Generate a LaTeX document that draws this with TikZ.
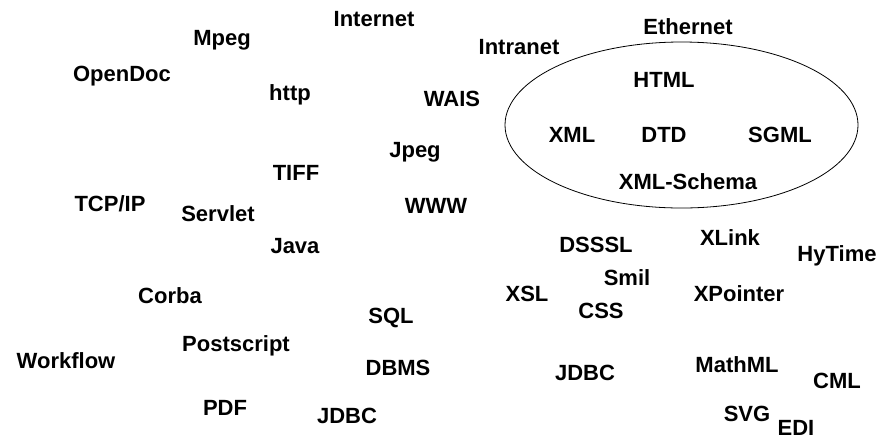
\documentclass[tikz,border=0pt]{standalone}
\usepackage{fontspec}
\setmainfont{Liberation Sans}
\usetikzlibrary{shapes.geometric}
\begin{document}
\begin{tikzpicture}[x=1pt,y=-1pt,
  term/.style={font=\fontsize{22}{24}\selectfont\bfseries, inner sep=0pt, text height=16pt, text depth=0pt, anchor=center},
  group/.style={draw, ellipse, line width=0.8pt, minimum width=353pt, minimum height=166pt, inner sep=0pt}]
\path[use as bounding box, fill=white] (0,0) rectangle (885,440);
\node[group] (grp) at (681.5,125) {};
% left / middle words
\node[term] (internet) at (374,18) {Internet};
\node[term] (mpeg) at (222,37) {Mpeg};
\node[term] (intranet) at (519,46) {Intranet};
\node[term] (opendoc) at (122,73) {OpenDoc};
\node[term] (http) at (290,92) {http};
\node[term] (wais) at (452,98) {WAIS};
\node[term] (jpeg) at (415,149) {Jpeg};
\node[term] (tiff) at (296,172) {TIFF};
\node[term] (tcpip) at (110,203) {TCP/IP};
\node[term] (servlet) at (218,213) {Servlet};
\node[term] (www) at (436,205) {WWW};
\node[term] (java) at (295,245) {Java};
\node[term] (corba) at (170,295) {Corba};
\node[term] (sql) at (391,315) {SQL};
\node[term] (postscript) at (236,343) {Postscript};
\node[term] (workflow) at (66,360) {Workflow};
\node[term] (dbms) at (398,367) {DBMS};
\node[term] (pdf) at (225,407) {PDF};
\node[term] (jdbcb) at (347,415) {JDBC};
% ellipse group
\node[term] (ethernet) at (688,26) {Ethernet};
\node[term] (html) at (664,79) {HTML};
\node[term] (xml) at (572,134) {XML};
\node[term] (dtd) at (664,134) {DTD};
\node[term] (sgml) at (780,134) {SGML};
\node[term] (schema) at (688,181) {XML-Schema};
% right words
\node[term] (dsssl) at (596,244) {DSSSL};
\node[term] (xlink) at (730,237) {XLink};
\node[term] (hytime) at (837,253) {HyTime};
\node[term] (smil) at (627,277) {Smil};
\node[term] (xsl) at (527,293) {XSL};
\node[term] (xpointer) at (739,293) {XPointer};
\node[term] (css) at (601,310) {CSS};
\node[term] (jdbcr) at (585,372) {JDBC};
\node[term] (mathml) at (737,364) {MathML};
\node[term] (cml) at (837,380) {CML};
\node[term] (svg) at (747,413) {SVG};
\node[term] (edi) at (796,427) {EDI};
\end{tikzpicture}
\end{document}
